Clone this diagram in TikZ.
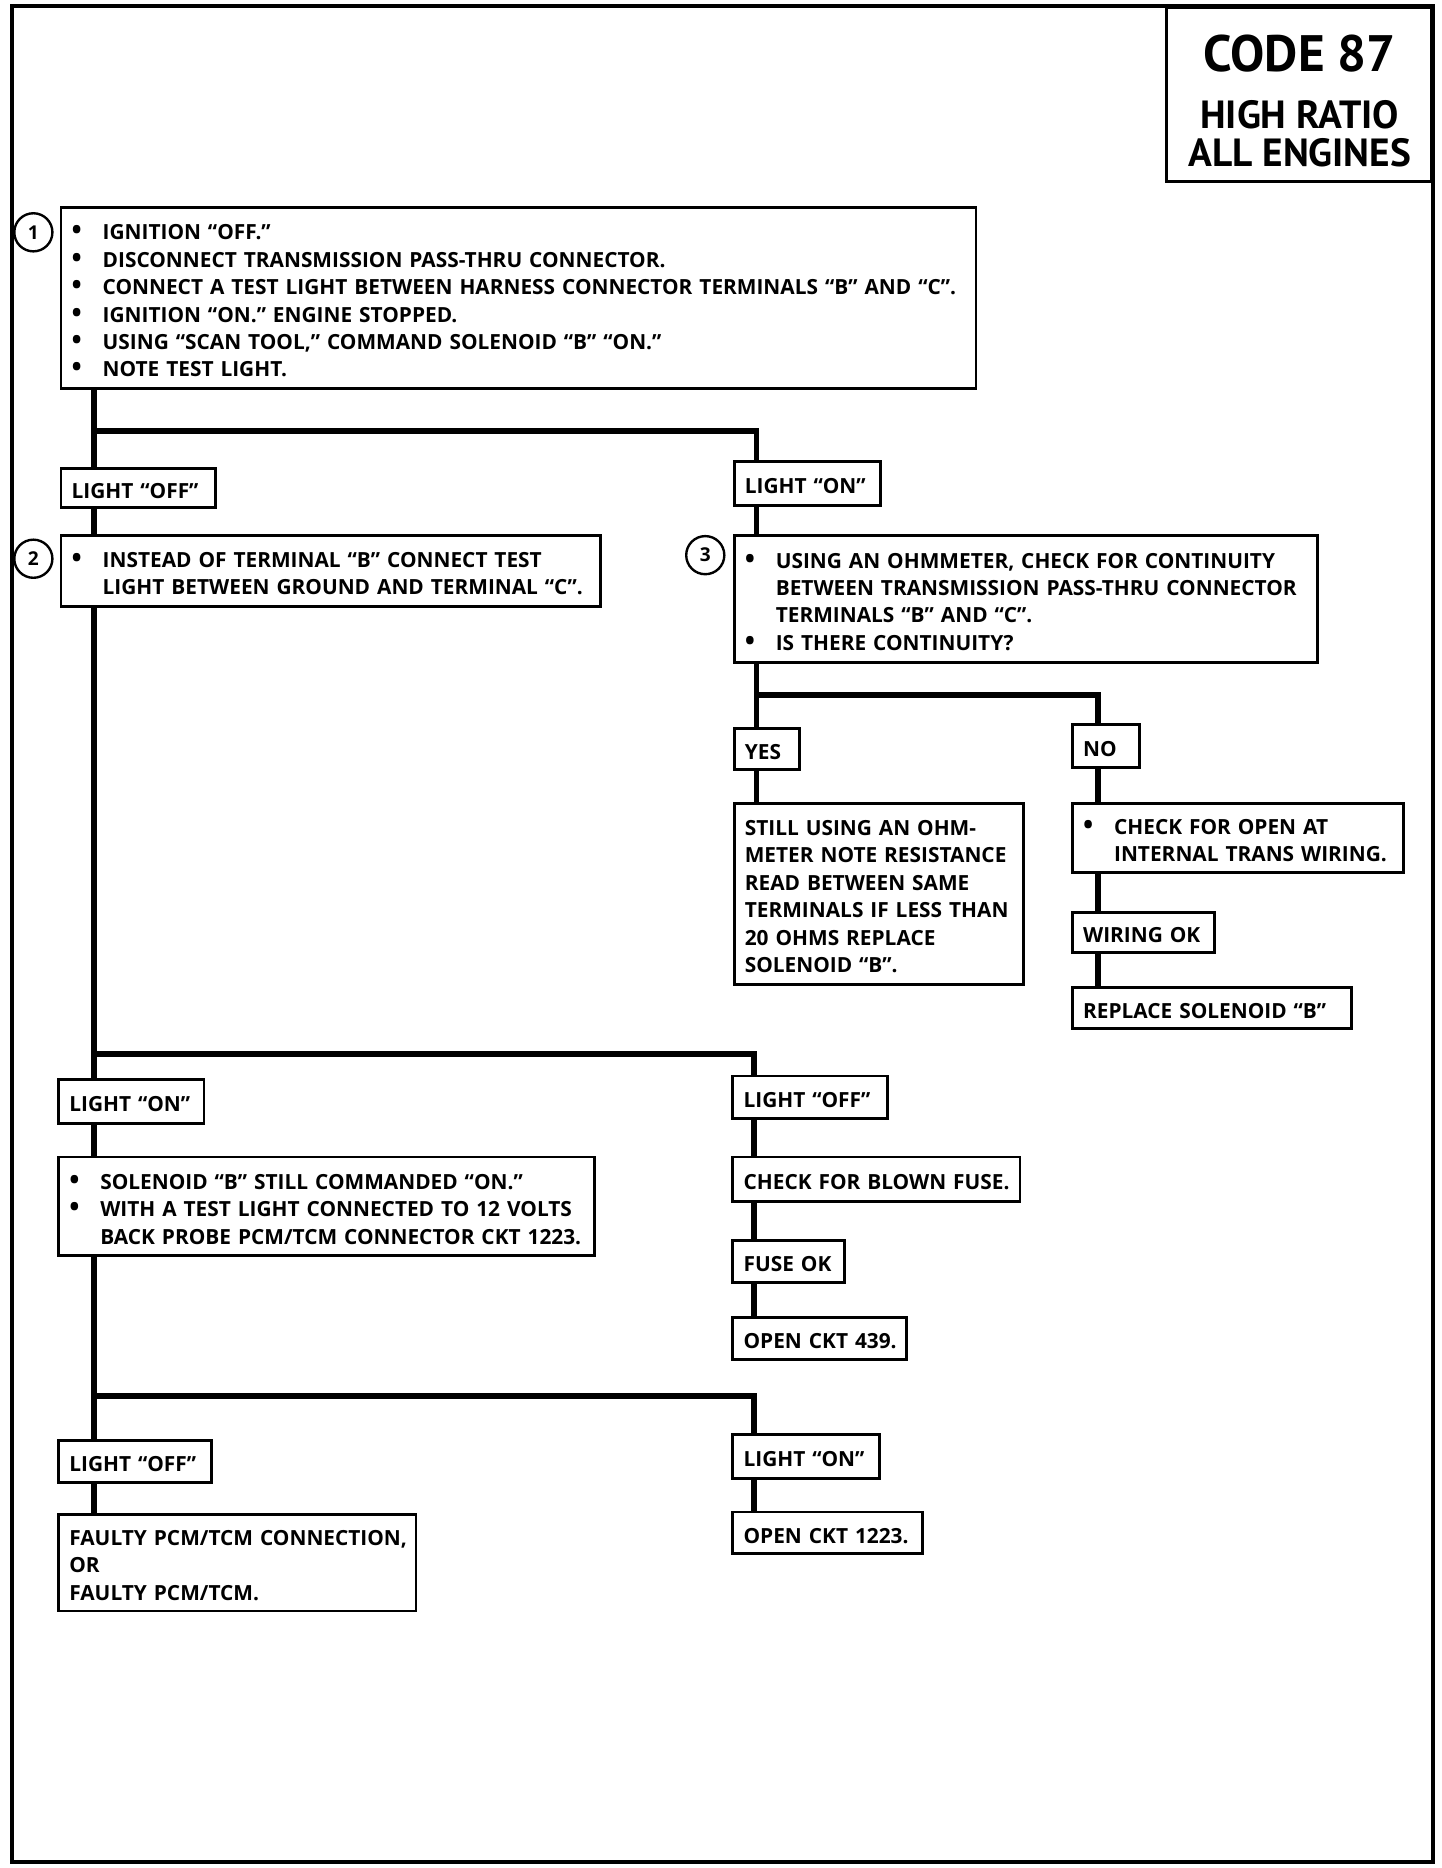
\documentclass[tikz,border=0pt]{standalone}
\usepackage{fontspec}
\setmainfont{Open Sans}
\newfontfamily\titlefont{PT Sans}
\newcommand{\bodyfont}{\bfseries\fontsize{17.5}{23}\selectfont}
\newcommand{\bl}{\makebox[26pt][l]{\scalebox{1.3}{\textbullet}}}
\newcommand{\ind}{\hspace*{26pt}}
\newcommand{\lns}[1]{\raisebox{-4pt}[\height][\depth]{\begin{tabular}{@{}l@{}}#1\end{tabular}}}
\tikzset{
  box/.style={draw, line width=2.4pt, anchor=north west, inner xsep=9pt, inner ysep=3pt, align=left, font=\bodyfont},
  conn/.style={line width=5pt},
  num/.style={draw, circle, line width=2pt, minimum size=32pt, inner sep=0pt, fill=white, font=\bfseries\fontsize{16}{16}\selectfont},
  title/.style={anchor=base, font=\titlefont\bfseries\fontsize{#1}{#1}\selectfont},
}
\begin{document}
\begin{tikzpicture}[x=1pt,y=1pt]
\useasboundingbox (0,0) rectangle (1210,-1568);
\draw[line width=3pt] (10,-5) rectangle (1203,-1563);
% title
\node[draw, line width=2.5pt, anchor=north east, minimum width=223pt, minimum height=146pt] (tbox) at (1203,-5) {};
\node[title=43] (t1) at (1091,-60) {CODE 87};
\node[title=33] (t2) at (1091,-108) {HIGH RATIO};
\node[title=33] (t3) at (1091,-140) {ALL ENGINES};
% columns
\coordinate (c1) at (79,0);
\coordinate (c2) at (635,0);
\coordinate (c3) at (922,0);
\coordinate (c4) at (633,0);
% boxes
\node[box, text width=750pt, minimum height=152pt, inner xsep=9pt] (b1) at (50,-173) {\lns{\bl IGNITION “OFF.”\\ \bl DISCONNECT TRANSMISSION PASS-THRU CONNECTOR.\\ \bl CONNECT A TEST LIGHT BETWEEN HARNESS CONNECTOR TERMINALS “B” AND “C”.\\ \bl IGNITION “ON.” ENGINE STOPPED.\\ \bl USING “SCAN TOOL,” COMMAND SOLENOID “B” “ON.”\\ \bl NOTE TEST LIGHT.}};
\node[num] (n1) at (28,-195) {1};
\node[box, text width=112pt, minimum height=33pt] (lo1) at (50,-392) {\lns{LIGHT “OFF”}};
\node[box, text width=105pt, minimum height=37pt] (ln1) at (615,-386) {\lns{LIGHT “ON”}};
\node[box, text width=435pt, minimum height=60pt] (b2) at (50,-448) {\lns{\bl INSTEAD OF TERMINAL “B” CONNECT TEST\\ \ind LIGHT BETWEEN GROUND AND TERMINAL “C”.}};
\node[num] (n2) at (28,-469) {2};
\node[box, text width=472pt, minimum height=107pt] (b3) at (615,-448) {\lns{\bl USING AN OHMMETER, CHECK FOR CONTINUITY\\ \ind BETWEEN TRANSMISSION PASS-THRU CONNECTOR\\ \ind TERMINALS “B” AND “C”.\\ \bl IS THERE CONTINUITY?}};
\node[num] (n3) at (592,-466) {3};
\node[box, text width=37pt, minimum height=35pt] (yes) at (615,-610) {\lns{YES}};
\node[box, text width=38pt, minimum height=36pt] (no) at (899,-607) {\lns{NO}};
\node[box, text width=225pt, minimum height=152pt] (still) at (615,-673) {\lns{STILL USING AN OHM-\\METER NOTE RESISTANCE\\READ BETWEEN SAME\\TERMINALS IF LESS THAN\\20 OHMS REPLACE\\SOLENOID “B”.}};
\node[box, text width=260pt, minimum height=58pt] (chk) at (899,-673) {\lns{\bl CHECK FOR OPEN AT\\ \ind INTERNAL TRANS WIRING.}};
\node[box, text width=101pt, minimum height=33pt] (wok) at (899,-765) {\lns{WIRING OK}};
\node[box, text width=216pt, minimum height=34pt] (rep) at (899,-828) {\lns{REPLACE SOLENOID “B”}};
\node[box, text width=104pt, minimum height=37pt] (ln2) at (48,-905) {\lns{LIGHT “ON”}};
\node[box, text width=432pt, minimum height=83pt] (sol) at (48,-970) {\lns{\bl SOLENOID “B” STILL COMMANDED “ON.”\\ \bl WITH A TEST LIGHT CONNECTED TO 12 VOLTS\\ \ind BACK PROBE PCM/TCM CONNECTOR CKT 1223.}};
\node[box, text width=112pt, minimum height=36pt] (lo2) at (614,-902) {\lns{LIGHT “OFF”}};
\node[box, text width=223pt, minimum height=37pt] (fuse) at (614,-970) {\lns{CHECK FOR BLOWN FUSE.}};
\node[box, text width=76pt, minimum height=35pt] (fok) at (614,-1040) {\lns{FUSE OK}};
\node[box, text width=128pt, minimum height=35pt] (o439) at (614,-1105) {\lns{OPEN CKT 439.}};
\node[box, text width=110pt, minimum height=35pt] (lo3) at (48,-1208) {\lns{LIGHT “OFF”}};
\node[box, text width=282pt, minimum height=81pt] (faulty) at (48,-1270) {\lns{FAULTY PCM/TCM CONNECTION,\\OR\\FAULTY PCM/TCM.}};
\node[box, text width=105pt, minimum height=37pt] (ln3) at (614,-1203) {\lns{LIGHT “ON”}};
\node[box, text width=141pt, minimum height=35pt] (o1223) at (614,-1268) {\lns{OPEN CKT 1223.}};
% junctions
\coordinate (j1) at (79,-362);
\coordinate (j2) at (635,-583);
\coordinate (j3) at (79,-885);
\coordinate (j4) at (79,-1172);
% connectors
\draw[conn] (b1.south -| c1) -- (lo1.north -| c1);
\draw[conn] (j1) -| (ln1.north -| c2);
\draw[conn] (lo1.south -| c1) -- (b2.north -| c1);
\draw[conn] (b2.south -| c1) -- (ln2.north -| c1);
\draw[conn] (ln2.south -| c1) -- (sol.north -| c1);
\draw[conn] (sol.south -| c1) -- (lo3.north -| c1);
\draw[conn] (lo3.south -| c1) -- (faulty.north -| c1);
\draw[conn] (ln1.south -| c2) -- (b3.north -| c2);
\draw[conn] (b3.south -| c2) -- (yes.north -| c2);
\draw[conn] (j2) -| (no.north -| c3);
\draw[conn] (yes.south -| c2) -- (still.north -| c2);
\draw[conn] (no.south -| c3) -- (chk.north -| c3);
\draw[conn] (chk.south -| c3) -- (wok.north -| c3);
\draw[conn] (wok.south -| c3) -- (rep.north -| c3);
\draw[conn] (j3) -| (lo2.north -| c4);
\draw[conn] (lo2.south -| c4) -- (fuse.north -| c4);
\draw[conn] (fuse.south -| c4) -- (fok.north -| c4);
\draw[conn] (fok.south -| c4) -- (o439.north -| c4);
\draw[conn] (j4) -| (ln3.north -| c4);
\draw[conn] (ln3.south -| c4) -- (o1223.north -| c4);
\end{tikzpicture}
\end{document}
